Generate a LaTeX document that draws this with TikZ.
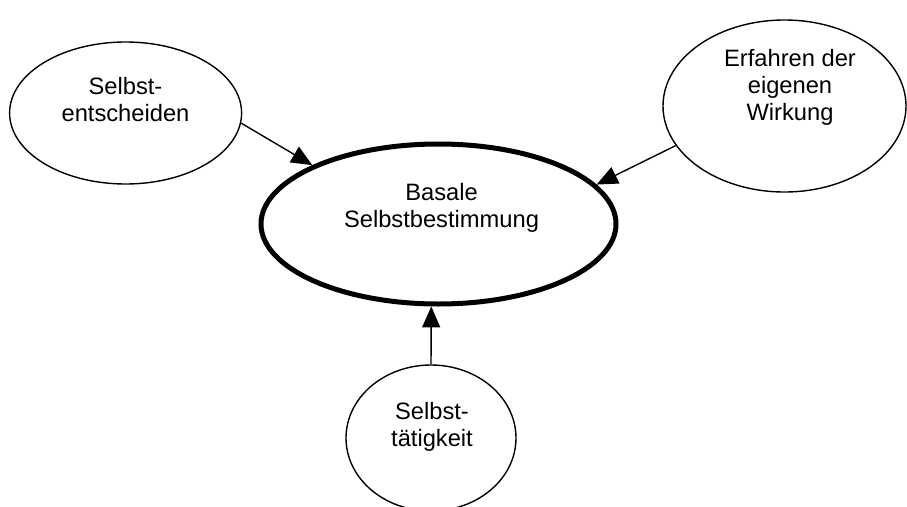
\documentclass[tikz,border=0pt]{standalone}
\usepackage{fontspec}
\setmainfont{Liberation Sans}
\usetikzlibrary{shapes.geometric,arrows.meta}
\tikzset{
  bubble/.style={ellipse, draw=black, line width=1.4pt, inner sep=0pt, fill=white},
  corebubble/.style={ellipse, draw=black, line width=5pt, inner sep=0pt},
  caption/.style={align=center, anchor=base, inner sep=0pt,
    font=\fontsize{23.7}{27}\selectfont},
  link/.style={line width=1.4pt, -{Triangle[length=21pt,width=18pt]}}
}
\begin{document}
\begin{tikzpicture}[x=1pt,y=-1pt]
\useasboundingbox (0,0) rectangle (907,506);
\clip (0,0) rectangle (907,506);
\fill[white] (0,0) rectangle (907,506);

% outer ideas
\node[bubble, minimum width=232pt, minimum height=142pt] (tl) at (125.6,113) {};
\node[bubble, minimum width=243pt, minimum height=172pt] (tr) at (784.5,106) {};
\node[bubble, minimum width=170pt, minimum height=146pt] (bc) at (431,438) {};
% central concept
\node[corebubble, minimum width=355pt, minimum height=160pt] (core) at (438.5,224) {};

% labels (positioned by the baseline of their last line)
\node[caption] (tltext) at (125.5,121.7) {Selbst-\\entscheiden};
\node[caption] (trtext) at (790,120.7) {Erfahren der\\eigenen\\Wirkung};
\node[caption] (bctext) at (432,446) {Selbst-\\tätigkeit};
\node[caption] (coretext) at (441.5,227) {Basale\\Selbstbestimmung};

% influences on the central concept
\draw[link] (tl.-5) -- (core.155.3);
\draw[link] (tr.200.2) -- (core.14.2);
\draw[link] (bc.north) -- (core.265);
\end{tikzpicture}
\end{document}
